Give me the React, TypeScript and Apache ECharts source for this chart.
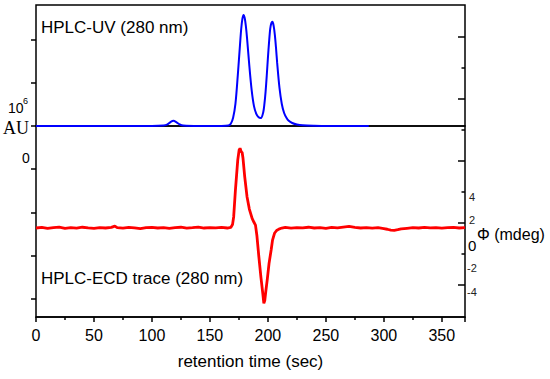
import { useEffect, useRef } from 'react';
import * as echarts from 'echarts';

// HPLC-UV trace (retention time in sec, signal in 10^6 AU)
const uvTime = [0, 100, 110, 113, 116, 118.5, 121, 124, 127, 140, 160, 166, 168, 170, 172, 174, 176, 177, 178, 179, 180, 181, 182, 184, 186, 188, 190, 192, 194, 196, 197, 198, 199, 200, 201, 202, 203, 204, 205, 206, 207, 208, 210, 212, 214, 216, 218, 221, 225, 230, 240, 260, 287];
const uvSignal = [0, 0, 0.01, 0.03, 0.09, 0.12, 0.09, 0.035, 0.01, 0, 0, 0.01, 0.05, 0.19, 0.51, 1.16, 1.9, 2.25, 2.48, 2.57, 2.5, 2.31, 2.04, 1.39, 0.83, 0.46, 0.28, 0.2, 0.185, 0.32, 0.51, 0.79, 1.16, 1.57, 1.94, 2.25, 2.38, 2.41, 2.31, 2.11, 1.81, 1.46, 0.88, 0.51, 0.3, 0.19, 0.12, 0.07, 0.035, 0.016, 0.007, 0, 0];

// HPLC-ECD trace (retention time in sec, ellipticity in mdeg)
const ecdTime = [0, 5, 10, 15, 20, 25, 30, 35, 40, 45, 50, 55, 60, 65, 68, 70, 75, 80, 85, 90, 95, 100, 105, 110, 115, 120, 125, 130, 135, 140, 145, 150, 155, 160, 165, 168, 169.5, 170.5, 172, 174, 175.2, 176, 177, 177.8, 178.5, 180, 182, 184, 186.4, 188, 189.3, 190.5, 192.2, 194, 195.6, 196.5, 197.3, 198.2, 199.4, 201, 202.8, 204, 205.7, 207.5, 209.5, 212, 215, 220, 225, 230, 235, 240, 245, 250, 255, 260, 265, 270, 275, 280, 285, 290, 295, 300, 303, 306, 309, 312, 315, 320, 325, 330, 335, 340, 345, 350, 355, 360, 365, 370];
const ecdSignal = [1.68, 1.72, 1.65, 1.7, 1.74, 1.66, 1.7, 1.67, 1.73, 1.69, 1.66, 1.71, 1.68, 1.72, 1.8, 1.7, 1.67, 1.72, 1.69, 1.64, 1.7, 1.72, 1.68, 1.71, 1.66, 1.7, 1.73, 1.67, 1.7, 1.74, 1.68, 1.71, 1.69, 1.72, 1.68, 1.72, 1.9, 2.41, 4.13, 6.06, 6.71, 6.82, 6.6, 6.55, 6.2, 5.0, 3.7, 2.9, 2.3, 2.05, 1.87, 1.2, -0.17, -1.5, -2.54, -3.18, -3.0, -2.4, -1.68, -0.6, 0.26, 0.9, 1.34, 1.52, 1.61, 1.68, 1.72, 1.67, 1.71, 1.69, 1.73, 1.68, 1.7, 1.66, 1.72, 1.69, 1.74, 1.78, 1.72, 1.68, 1.71, 1.67, 1.7, 1.64, 1.6, 1.55, 1.53, 1.57, 1.62, 1.66, 1.7, 1.68, 1.72, 1.69, 1.71, 1.67, 1.7, 1.72, 1.68, 1.7];

// axis tick values
const uvLeftTicks = [0, 1, 2];
const uvRightMajor = [0.625, 2.06];
const uvRightMinor = [1.34];
const ecdLeftTicks = [5.48, 2.65, -0.13, -2.9];
const ecdRightMajor = [-2, 2, 6];
const ecdRightMinor = [0, 4, 8];
const ecdRightLabels = ['4', '2', '0', '-2', '-4'];

const SANS = '"Liberation Sans", Arial, sans-serif';

export default function App() {
  const ref = useRef<HTMLDivElement>(null);
  useEffect(() => {
    document.body.style.margin = '0';
    if (!ref.current) return;
    const chart = echarts.init(ref.current, undefined, { renderer: 'svg' });
    const uvData = uvTime.map((t, i) => [t, uvSignal[i]]);
    const ecdData = ecdTime.map((t, i) => [t, ecdSignal[i]]);
    const hiddenAxisBits = {
      axisLine: { show: false, onZero: false },
      axisLabel: { show: false },
      splitLine: { show: false },
    };
    const yTop = { gridIndex: 0, type: 'value', min: 0, max: 2.8, ...hiddenAxisBits };
    const yBot = { gridIndex: 1, type: 'value', min: -4.06, max: 8.26, ...hiddenAxisBits };
    const tick = (inside: boolean, length: number, values: number[]) => ({
      show: true,
      inside,
      length,
      customValues: values,
      lineStyle: { color: '#000', width: 1.5 },
    });
    const rightLabelY = [197, 220, 245, 268, 292];
    const rightLabelX = [469, 469, 468, 467, 467];
    chart.setOption({
      animation: false,
      backgroundColor: '#fff',
      grid: [
        { left: 36, right: 85, top: 5, height: 121, show: true, borderColor: '#000', borderWidth: 1.5, backgroundColor: 'transparent' },
        { left: 36, right: 85, top: 126, height: 191, show: true, borderColor: '#000', borderWidth: 1.5, backgroundColor: 'transparent' },
      ],
      xAxis: [
        { gridIndex: 0, type: 'value', min: 0, max: 370, show: false, axisLine: { onZero: false } },
        {
          gridIndex: 1,
          type: 'value',
          min: 0,
          max: 370,
          interval: 50,
          position: 'bottom',
          axisLine: { show: true, onZero: false, lineStyle: { color: '#000', width: 1.5 } },
          axisTick: { show: true, length: 5, lineStyle: { color: '#000', width: 1.5 } },
          minorTick: { show: true, splitNumber: 2, length: 3, lineStyle: { color: '#000', width: 1.5 } },
          splitLine: { show: false },
          axisLabel: { color: '#000', fontSize: 16, fontFamily: SANS, margin: 10 },
          name: 'retention time (sec)',
          nameLocation: 'middle',
          nameGap: 36,
          nameTextStyle: { color: '#000', fontSize: 17, fontFamily: SANS },
        },
      ],
      yAxis: [
        { ...yTop, position: 'left', axisTick: tick(false, 5, uvLeftTicks) },
        { ...yTop, position: 'right', axisTick: tick(true, 7, uvRightMajor) },
        { ...yTop, position: 'right', axisTick: tick(true, 3.5, uvRightMinor) },
        { ...yBot, position: 'left', axisTick: tick(false, 5, ecdLeftTicks) },
        { ...yBot, position: 'right', axisTick: tick(true, 7, ecdRightMajor) },
        { ...yBot, position: 'right', axisTick: tick(true, 3.5, ecdRightMinor) },
      ],
      series: [
        {
          type: 'line',
          xAxisIndex: 0,
          yAxisIndex: 0,
          data: uvData,
          showSymbol: false,
          smooth: 0.3,
          lineStyle: { color: '#0000ff', width: 2 },
        },
        {
          type: 'line',
          xAxisIndex: 1,
          yAxisIndex: 4,
          data: ecdData,
          showSymbol: false,
          lineStyle: { color: '#ff0000', width: 2.8 },
        },
      ],
      graphic: [
        { type: 'text', x: 41, y: 27, style: { text: 'HPLC-UV (280 nm)', font: `17px ${SANS}`, fill: '#000', textVerticalAlign: 'middle' } },
        { type: 'text', x: 41, y: 278, style: { text: 'HPLC-ECD trace (280 nm)', font: `17px ${SANS}`, fill: '#000', textVerticalAlign: 'middle' } },
        { type: 'text', x: 8, y: 108, style: { text: '10', font: `14px ${SANS}`, fill: '#000', textVerticalAlign: 'middle' } },
        { type: 'text', x: 23, y: 101, style: { text: '6', font: `9px ${SANS}`, fill: '#000', textVerticalAlign: 'middle' } },
        { type: 'text', x: 3, y: 128, style: { text: 'AU', font: `18px "Liberation Serif", "Times New Roman", serif`, fill: '#000', textVerticalAlign: 'middle' } },
        { type: 'text', x: 22, y: 158, style: { text: '0', font: `14px ${SANS}`, fill: '#000', textVerticalAlign: 'middle' } },
        ...ecdRightLabels.map((t, i) => ({
          type: 'text',
          x: rightLabelX[i],
          y: rightLabelY[i],
          style: {
            text: t,
            font: t === '0' ? `15px ${SANS}` : `11px ${SANS}`,
            fill: t === '0' ? '#000' : '#222',
            textVerticalAlign: 'middle',
          },
        })),
        { type: 'text', x: 477, y: 234, style: { text: 'Φ (mdeg)', font: `16px ${SANS}`, fill: '#000', textVerticalAlign: 'middle' } },
      ],
    });
    return () => chart.dispose();
  }, []);
  return <div ref={ref} style={{ width: 550, height: 379 }} />;
}
